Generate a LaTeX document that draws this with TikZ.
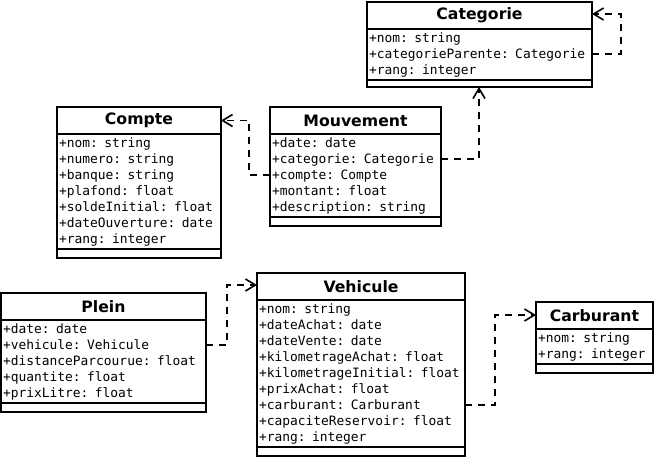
\documentclass[tikz,border=0pt]{standalone}
\usepackage{fontspec}
\usetikzlibrary{positioning,arrows.meta}
\newfontfamily\classfont{DejaVu Sans}
\newfontfamily\attrfont{DejaVu Sans Mono}

\tikzset{
    box/.style={draw, line width=1.8pt, outer sep=0pt, inner xsep=2pt, inner ysep=0pt},
    title/.style={box, font={\classfont\bfseries\fontsize{15.7}{18}\selectfont}, minimum height=27pt},
    attrs/.style={box, font={\attrfont\fontsize{12.9}{16}\selectfont}, align=left, minimum height=16*#1+3},
    ops/.style={box, minimum height=9pt},
    dep/.style={line width=1.6pt, dash pattern=on 7pt off 6pt, -{Straight Barb[length=10pt,width=12pt,line width=1.6pt]}}
}

\begin{document}
\begin{tikzpicture}[x=1pt,y=-1pt]
    \useasboundingbox (0,0) rectangle (655,458);

    % Categorie
    \node[title, minimum width=225pt, anchor=north west] (cat) at (367,2) {Categorie};
    \node[attrs=3, text width=221pt, below=0pt of cat] (cat-a) {+nom: string\\+categorieParente: Categorie\\+rang: integer};
    \node[ops, minimum width=225pt, minimum height=7pt, below=0pt of cat-a] (cat-o) {};

    % Compte
    \node[title, minimum width=164pt, anchor=north west] (cpt) at (57,107) {Compte};
    \node[attrs=7, text width=160pt, below=0pt of cpt] (cpt-a) {+nom: string\\+numero: string\\+banque: string\\+plafond: float\\+soldeInitial: float\\+dateOuverture: date\\+rang: integer};
    \node[ops, minimum width=164pt, below=0pt of cpt-a] (cpt-o) {};

    % Mouvement
    \node[title, minimum width=171pt, anchor=north west] (mvt) at (270,107) {Mouvement};
    \node[attrs=5, text width=167pt, below=0pt of mvt] (mvt-a) {+date: date\\+categorie: Categorie\\+compte: Compte\\+montant: float\\+description: string};
    \node[ops, minimum width=171pt, below=0pt of mvt-a] (mvt-o) {};

    % Plein
    \node[title, minimum width=205pt, anchor=north west] (plein) at (1,293) {Plein};
    \node[attrs=5, text width=201pt, below=0pt of plein] (plein-a) {+date: date\\+vehicule: Vehicule\\+distanceParcourue: float\\+quantite: float\\+prixLitre: float};
    \node[ops, minimum width=205pt, below=0pt of plein-a] (plein-o) {};

    % Vehicule
    \node[title, minimum width=208pt, anchor=north west] (veh) at (257,273) {Vehicule};
    \node[attrs=9, text width=204pt, below=0pt of veh] (veh-a) {+nom: string\\+dateAchat: date\\+dateVente: date\\+kilometrageAchat: float\\+kilometrageInitial: float\\+prixAchat: float\\+carburant: Carburant\\+capaciteReservoir: float\\+rang: integer};
    \node[ops, minimum width=208pt, below=0pt of veh-a] (veh-o) {};

    % Carburant
    \node[title, minimum width=117pt, anchor=north west] (carb) at (536,302) {Carburant};
    \node[attrs=2, text width=113pt, below=0pt of carb] (carb-a) {+nom: string\\+rang: integer};
    \node[ops, minimum width=117pt, below=0pt of carb-a] (carb-o) {};

    % dependances
    \draw[dep] ([yshift=-25pt]cat-a.north east) -- ++(29,0) |- ([yshift=-12pt]cat.north east);
    \draw[dep] ([yshift=-25pt]mvt-a.north east) -| (cat-o.south -| 479,0);
    \draw[dep] ([yshift=-41pt]mvt-a.north west) -- ++(-21,0) |- (cpt.east);
    \draw[dep] ([yshift=-25pt]plein-a.north east) -- ++(21,0) |- ([yshift=-12pt]veh.north west);
    \draw[dep] ([yshift=-105pt]veh-a.north east) -- ++(30,0) |- ([yshift=-13pt]carb.north west);
\end{tikzpicture}
\end{document}
